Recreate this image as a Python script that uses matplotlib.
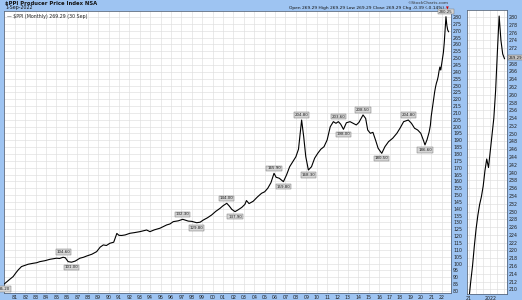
import numpy as np
import matplotlib
matplotlib.use('Agg')
from matplotlib import pyplot as plt
from matplotlib.ticker import MultipleLocator, FixedLocator, FuncFormatter

# $PPI monthly (decimal year, index value)
dates_main = [
    1980.00, 1980.20, 1980.50, 1980.84, 1981.10, 1981.32, 1981.64, 1982.00,
    1982.28, 1982.76, 1983.10, 1983.40, 1983.90, 1984.37, 1984.70, 1985.00,
    1985.30, 1985.64, 1985.85, 1986.12, 1986.45, 1986.80, 1987.25, 1987.60,
    1987.90, 1988.40, 1988.86, 1989.20, 1989.50, 1989.80, 1990.13, 1990.50,
    1990.80, 1991.00, 1991.26, 1991.60, 1992.06, 1992.50, 1993.02, 1993.40,
    1993.66, 1993.98, 1994.40, 1994.94, 1995.30, 1995.59, 1995.90, 1996.22,
    1996.70, 1997.13, 1997.40, 1997.66, 1998.00, 1998.47, 1998.80, 1999.11,
    1999.50, 1999.91, 2000.30, 2000.71, 2001.00, 2001.36, 2001.60, 2001.84,
    2002.15, 2002.40, 2002.80, 2003.10, 2003.25, 2003.50, 2003.90, 2004.30,
    2004.70, 2005.00, 2005.30, 2005.60, 2005.90, 2006.10, 2006.40, 2006.80,
    2007.10, 2007.40, 2007.70, 2008.00, 2008.25, 2008.55, 2008.75, 2008.95,
    2009.20, 2009.50, 2009.80, 2010.10, 2010.40, 2010.70, 2011.00, 2011.30,
    2011.60, 2011.85, 2012.08, 2012.30, 2012.57, 2012.85, 2013.20, 2013.50,
    2013.80, 2014.05, 2014.45, 2014.70, 2014.90, 2015.15, 2015.40, 2015.65,
    2015.90, 2016.10, 2016.25, 2016.55, 2016.90, 2017.30, 2017.70, 2018.00,
    2018.35, 2018.80, 2019.10, 2019.40, 2019.70, 2020.00, 2020.25, 2020.40,
    2020.60, 2020.80, 2020.92,
]
ppi_main = [
    85.20, 86.50, 88.40, 90.50, 93.20, 95.30, 97.80, 98.80,
    99.50, 100.20, 100.60, 101.40, 102.10, 103.10, 103.50, 103.90,
    103.70, 104.60, 104.20, 101.40, 101.00, 101.80, 103.90, 104.60,
    105.50, 106.80, 108.70, 112.00, 113.60, 113.20, 114.80, 115.60,
    122.00, 120.60, 120.50, 120.90, 122.10, 122.60, 123.30, 124.00,
    124.50, 123.30, 124.60, 125.80, 127.10, 128.20, 128.90, 130.60,
    131.20, 132.30, 131.60, 131.00, 130.80, 129.80, 130.20, 131.80,
    133.40, 135.50, 138.10, 140.30, 142.20, 144.00, 142.00, 139.60,
    137.90, 139.00, 141.00, 143.20, 146.00, 143.80, 145.50, 148.60,
    151.30, 152.40, 155.00, 159.00, 165.90, 163.00, 162.30, 159.80,
    164.70, 170.70, 174.40, 178.00, 183.50, 204.80, 192.60, 178.00,
    168.30, 170.70, 176.90, 180.50, 183.50, 185.30, 190.20, 199.90,
    203.60, 202.40, 203.60, 201.80, 198.00, 202.80, 203.60, 202.40,
    201.20, 203.00, 208.50, 206.00, 197.50, 195.10, 195.80, 190.20,
    184.20, 182.00, 180.50, 185.30, 189.00, 191.50, 195.10, 198.80,
    203.60, 204.80, 202.40, 198.80, 197.50, 195.10, 190.00, 186.60,
    190.50, 196.00, 201.00,
]

# last 21 months, also shown in the side panel
months_zoom = ['2021-01', '2021-02', '2021-03', '2021-04', '2021-05', '2021-06',
               '2021-07', '2021-08', '2021-09', '2021-10', '2021-11', '2021-12',
               '2022-01', '2022-02', '2022-03', '2022-04', '2022-05', '2022-06',
               '2022-07', '2022-08', '2022-09']
ppi_zoom = [207.50, 212.00, 216.00, 221.00, 225.50, 229.00,
            231.80, 233.80, 236.50, 240.50, 243.50, 241.30,
            245.50, 249.50, 254.00, 261.00, 271.00, 280.25,
            274.00, 270.50, 269.29]

peak_dates = [1985.64, 1997.13, 2001.36, 2005.90, 2008.55, 2012.08, 2014.45, 2018.80]
trough_dates = [1986.45, 1998.47, 2002.15, 2006.80, 2009.20, 2012.57, 2016.25, 2020.40]

main_years = list(range(1980, 2023))
main_year_labels = ['%02d' % (y % 100) for y in main_years]


def dec_year(m):
    y, mo = m.split('-')
    return int(y) + (int(mo) - 1) / 12


zoom_x = [dec_year(m) for m in months_zoom]
all_x = np.array(dates_main + zoom_x)
all_y = np.array(ppi_main + ppi_zoom)

BG = '#9ec4f2'
GRID = '#dedede'
W, H = 522, 300

fig = plt.figure(figsize=(W / 100, H / 100), dpi=100, facecolor=BG)


def box(x0, y0, x1, y1):
    # pixel box (top-left origin) -> fig fraction rect
    return [x0 / W, 1 - y1 / H, (x1 - x0) / W, (y1 - y0) / H]


def style(ax):
    ax.set_facecolor('white')
    for s in ax.spines.values():
        s.set_color('#5a6a80')
        s.set_linewidth(0.6)
    ax.yaxis.tick_right()
    ax.tick_params(axis='both', length=0, labelsize=3.4, pad=1.5, colors='#222222')
    ax.grid(True, color=GRID, lw=0.45)
    ax.set_axisbelow(True)


def tag(ax, x, y, above):
    ax.annotate('%.2f' % y, (x, y), xytext=(0, 2.2 if above else -2.2),
                textcoords='offset points', ha='center',
                va='bottom' if above else 'top', fontsize=2.9, color='#222222',
                bbox=dict(boxstyle='square,pad=0.18', fc='#d6d6d6', ec='#7a7a7a', lw=0.35),
                annotation_clip=False, zorder=5)


# main panel
ax = fig.add_axes(box(4, 11, 451, 293))
style(ax)
ax.plot(all_x, all_y, color='black', lw=0.8, zorder=3)
ax.set_xlim(1979.96, 2022.9)
ax.set_ylim(78.5, 284.4)
ax.yaxis.set_major_locator(MultipleLocator(5))
ax.xaxis.set_major_locator(FixedLocator(main_years))
ax.set_xticklabels([''] + main_year_labels[1:])

for d in peak_dates:
    tag(ax, d, all_y[np.argmin(abs(all_x - d))], True)
for d in trough_dates:
    tag(ax, d, all_y[np.argmin(abs(all_x - d))], False)
tag(ax, all_x[0], all_y[0], False)
tag(ax, zoom_x[17], ppi_zoom[17], True)

ax.text(0.006, 0.988, '\u2014 $PPI (Monthly) 269.29 (30 Sep)', transform=ax.transAxes,
        fontsize=3.4, va='top', ha='left', color='#222222')

# side panel with the last months
ax2 = fig.add_axes(box(467, 10, 507, 294))
style(ax2)
ax2.plot(all_x, all_y, color='black', lw=0.8, zorder=3)
ax2.set_xlim(2020.908, 2022.785)
ax2.set_ylim(208.8, 281.8)
ax2.yaxis.set_major_locator(MultipleLocator(2))
# the last-value tag covers the 270 label
ax2.yaxis.set_major_formatter(FuncFormatter(lambda v, p: '' if round(v) == 270 else '%d' % round(v)))
ax2.xaxis.set_major_locator(FixedLocator([2021, 2022]))
ax2.xaxis.set_minor_locator(FixedLocator([2021 + 4 / 12, 2021 + 8 / 12, 2022 + 4 / 12, 2022 + 8 / 12]))
ax2.set_xticklabels(['21', '2022'])
ax2.grid(True, which='minor', axis='x', color=GRID, lw=0.45)
ax2.tick_params(which='minor', length=0)
ax2.annotate('269.29', (1.0, ppi_zoom[-1]), xycoords=('axes fraction', 'data'),
             xytext=(1.2, 0.6), textcoords='offset points', ha='left', va='center',
             fontsize=2.8, color='#111111',
             bbox=dict(boxstyle='square,pad=0.12', fc='#c8c8c8', ec='#666666', lw=0.35),
             annotation_clip=False, zorder=6)

# header
fig.text(5 / W, 1 - 3.5 / H, '$PPI Producer Price Index NSA', fontsize=3.8,
         fontweight='bold', va='center', ha='left', color='#111111')
fig.text(5 / W, 1 - 8 / H, '1-Sep-2022', fontsize=3.4, va='center', ha='left', color='#111111')
fig.text(428 / W, 1 - 3 / H, '\u00a9StockCharts.com', fontsize=3.2, va='center',
         ha='center', color='#333333')
fig.text(444 / W, 1 - 8 / H,
         'Open 269.29 High 269.29 Low 269.29 Close 269.29 Chg -0.39 (-0.14%)',
         fontsize=3.2, va='center', ha='right', color='#111111')
fig.text(446 / W, 1 - 8 / H, '\u25bc', fontsize=2.6, va='center', ha='left', color='#cc0000')

fig.savefig('out.png', dpi=100, facecolor=BG)
